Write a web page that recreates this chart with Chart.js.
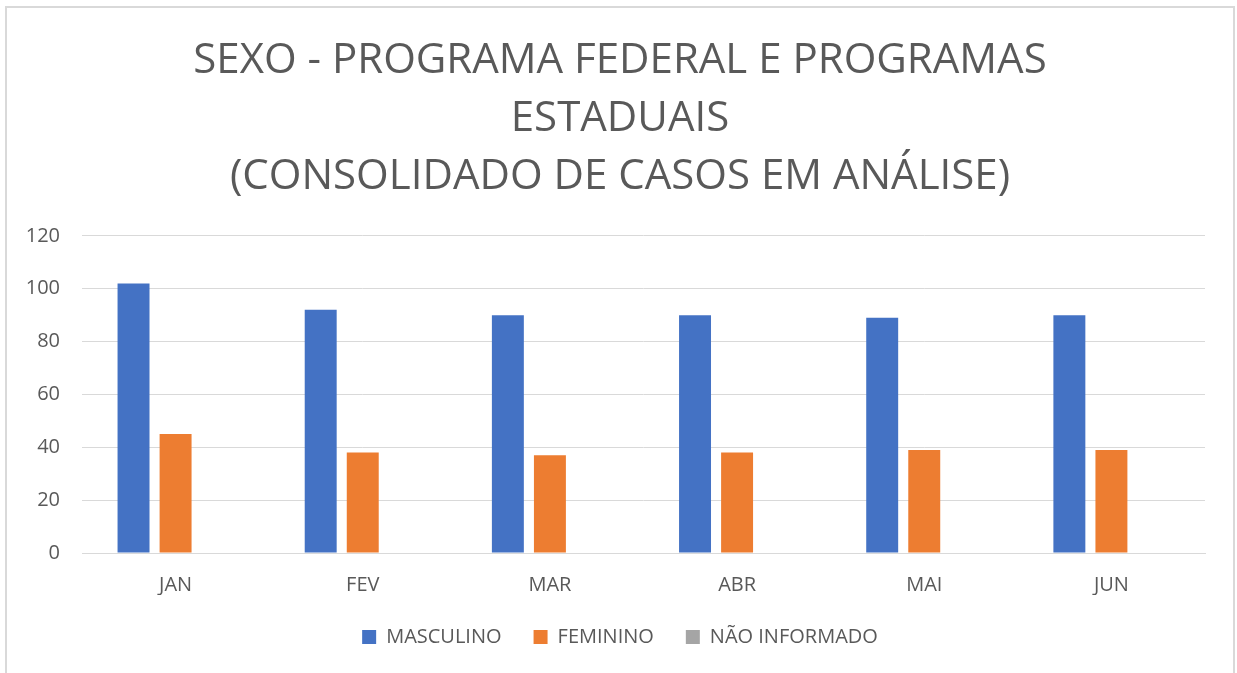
<!DOCTYPE html>
<html>
<head>
<meta charset="utf-8">
<script src="https://cdn.jsdelivr.net/npm/chart.js@4"></script>
<style>
  html, body { margin: 0; padding: 0; background: #ffffff; overflow: hidden; }
  #wrap { position: relative; width: 1237px; height: 673px; }
  #frame { position: absolute; left: 5px; top: 6px; width: 1226px; height: 700px;
           border: 2px solid #d9d9d9; pointer-events: none; box-sizing: content-box; }
</style>
</head>
<body>
<div id="wrap">
  <canvas id="c" width="1237" height="673"></canvas>
  <div id="frame"></div>
</div>
<script>
const titleLines = ["SEXO - PROGRAMA FEDERAL E PROGRAMAS", "ESTADUAIS", "(CONSOLIDADO DE CASOS EM ANÁLISE)"];
const categories = ["JAN", "FEV", "MAR", "ABR", "MAI", "JUN"];
const seriesNames = ["MASCULINO", "FEMININO", "NÃO INFORMADO"];
const masculino = [102, 92, 90, 90, 89, 90];
const feminino = [45, 38, 37, 38, 39, 39];
const naoInformado = [0, 0, 0, 0, 0, 0];
const yTicks = [0, 20, 40, 60, 80, 100, 120];

const FONT = "'Open Sans', 'Noto Sans', sans-serif";
const TXT = "#595959";

new Chart(document.getElementById("c"), {
  type: "bar",
  data: {
    labels: categories,
    datasets: [
      { label: seriesNames[0], data: masculino, backgroundColor: "#4472C4" },
      { label: seriesNames[1], data: feminino, backgroundColor: "#ED7D31" },
      { label: seriesNames[2], data: naoInformado, backgroundColor: "#A5A5A5" }
    ]
  },
  options: {
    responsive: false,
    animation: false,
    layout: { padding: { left: 15, right: 12, top: 0, bottom: 16 } },
    datasets: { bar: { categoryPercentage: 0.674, barPercentage: 0.76, borderWidth: 0 } },
    plugins: {
      tooltip: { enabled: false },
      title: {
        display: true,
        text: titleLines,
        color: TXT,
        font: { family: FONT, size: 42, weight: "normal", lineHeight: 1.38 },
        padding: { top: 32, bottom: 30 }
      },
      legend: {
        display: true,
        position: "bottom",
        labels: {
          color: TXT,
          font: { family: FONT, size: 20 },
          boxWidth: 14,
          boxHeight: 14,
          padding: 32
        }
      }
    },
    scales: {
      x: {
        grid: { display: false, drawTicks: false },
        border: { display: true, color: "#d9d9d9" },
        ticks: { color: TXT, font: { family: FONT, size: 20 }, padding: 20, maxRotation: 0 },
        afterFit: (s) => { s.height = 42; }
      },
      y: {
        min: 0, max: 120,
        grid: { color: "#d9d9d9", lineWidth: 1, drawTicks: false },
        border: { display: false },
        afterBuildTicks: (s) => { s.ticks = yTicks.map(v => ({ value: v })); },
        ticks: { color: TXT, font: { family: FONT, size: 20 }, padding: 22 },
        afterFit: (s) => { s.width = 67; }
      },
      yRight: {
        position: "right",
        display: true,
        grid: { display: false, drawTicks: false },
        border: { display: false },
        ticks: { display: false },
        afterFit: (s) => { s.width = 20; }
      }
    }
  }
});
</script>
</body>
</html>
